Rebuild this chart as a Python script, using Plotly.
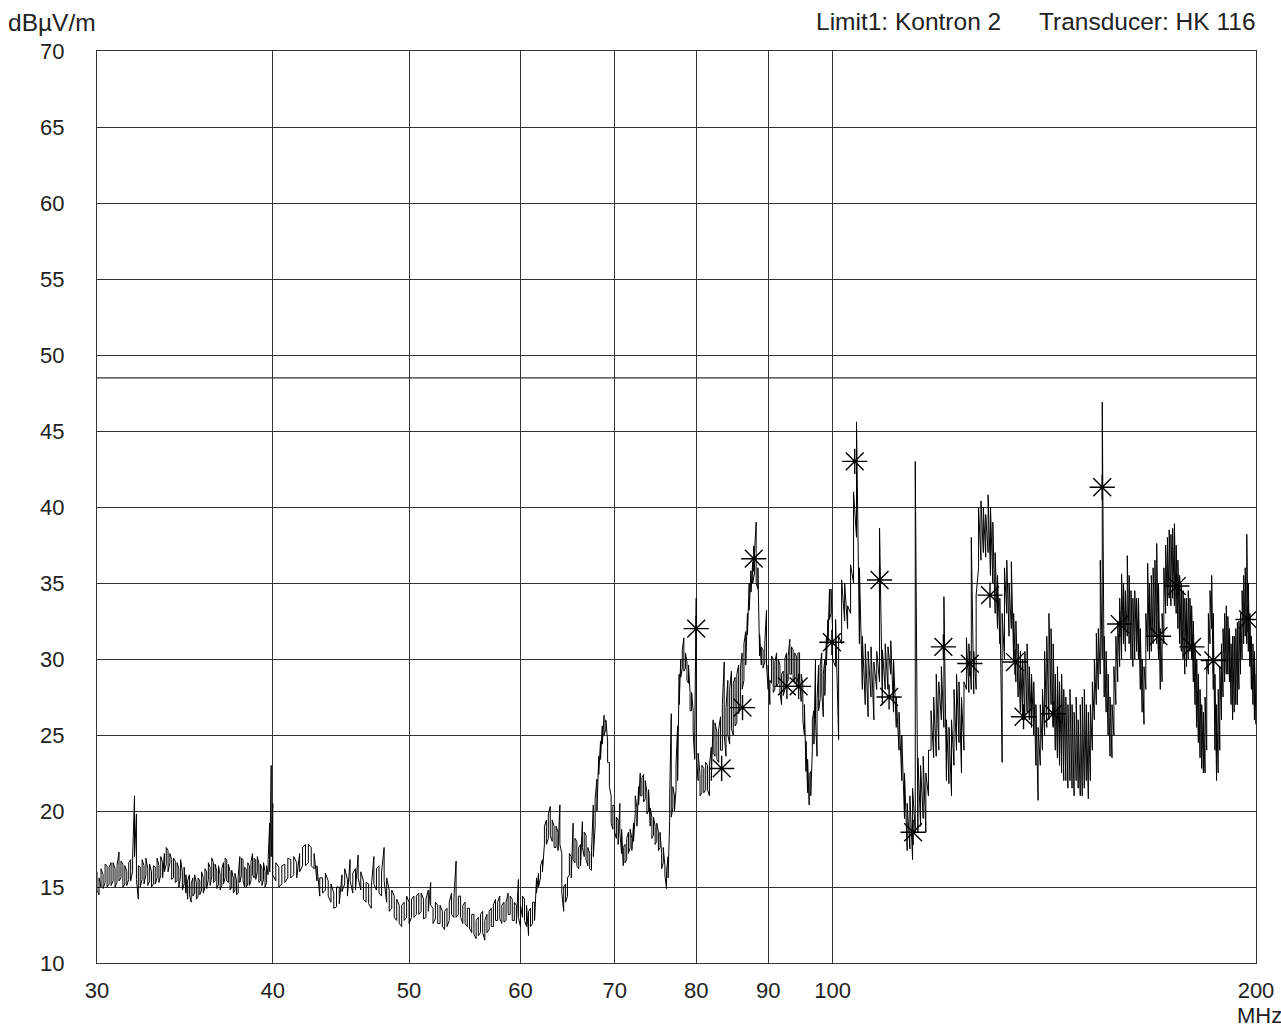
import math
import plotly.graph_objects as go

# ---------------- data ----------------
x_tick_vals = [30, 40, 50, 60, 70, 80, 90, 100, 200]
x_tick_text = ["30", "40", "50", "60", "70", "80", "90", "100", "200"]
y_tick_vals = [10, 15, 20, 25, 30, 35, 40, 45, 50, 55, 60, 65, 70]

limit1_level = 48.5  # Limit1: Kontron 2

# Each sweep point carries two detector readings (level, level2) drawn as a stroke.

# trace 30 - 40 MHz
seg_a_freq = [30.0, 30.1, 30.2, 30.3, 30.4, 30.5, 30.6, 30.7, 30.8, 30.9,
              31.0, 31.1, 31.2, 31.3, 31.4, 31.5, 31.6, 31.7, 31.8, 31.9,
              32.0, 32.1, 32.2, 32.3, 32.4, 32.5, 32.6, 32.7, 32.8, 32.9,
              33.0, 33.1, 33.2, 33.3, 33.4, 33.5, 33.6, 33.7, 33.8, 33.9,
              34.0, 34.1, 34.2, 34.3, 34.4, 34.5, 34.6, 34.7, 34.8, 34.9,
              35.0, 35.1, 35.2, 35.3, 35.4, 35.5, 35.6, 35.7, 35.8, 35.9,
              36.0, 36.1, 36.2, 36.3, 36.4, 36.5, 36.6, 36.7, 36.8, 36.9,
              37.0, 37.1, 37.2, 37.3, 37.4, 37.5, 37.6, 37.7, 37.8, 37.9,
              38.0, 38.1, 38.2, 38.3, 38.4, 38.5, 38.6, 38.7, 38.8, 38.9,
              39.0, 39.1, 39.2, 39.3, 39.4, 39.5, 39.6, 39.7, 39.8, 39.9, 40.0]
seg_a_level = [16.0, 14.5, 15.0, 15.8, 15.3, 16.4, 15.2, 16.6, 15.4, 16.2,
               15.3, 17.3, 15.6, 16.5, 15.2, 16.0, 15.5, 16.8, 16.0, 21.0,
               19.8, 14.2, 16.3, 15.5, 16.4, 15.8, 16.2, 15.4, 16.0, 15.2,
               16.3, 15.6, 16.4, 15.8, 16.6, 17.2, 16.5, 17.4, 16.6, 16.8,
               15.6, 16.7, 15.4, 16.2, 15.7, 16.0, 15.2, 14.6, 14.2, 15.8,
               14.0, 15.6, 14.6, 15.3, 14.4, 15.4, 14.8, 15.6, 15.0, 16.0,
               15.5, 16.3, 15.7, 16.6, 15.4, 16.0, 15.2, 15.8, 15.1, 16.6,
               15.6, 16.8, 15.3, 16.0, 15.0, 15.6, 14.8, 15.4, 14.6, 17.0,
               15.8, 16.8, 15.0, 16.2, 15.2, 16.4, 15.4, 17.2, 15.6, 16.8,
               16.0, 16.6, 15.4, 16.2, 15.5, 16.0, 15.3, 15.8, 19.2, 23.0, 20.5]
seg_a_level2 = [14.8, 15.6, 16.2, 14.9, 16.5, 15.0, 16.3, 15.1, 16.6, 15.0,
                16.4, 15.4, 16.7, 15.0, 16.4, 15.1, 16.6, 15.4, 16.9, 17.0,
                15.5, 16.4, 15.0, 16.8, 15.2, 16.9, 15.1, 16.5, 15.0, 16.4,
                15.2, 16.9, 15.3, 17.0, 15.6, 16.0, 17.6, 16.0, 17.2, 15.5,
                16.9, 15.3, 16.6, 15.0, 16.8, 14.8, 16.3, 15.8, 15.4, 14.5,
                15.2, 14.4, 15.8, 14.2, 15.6, 14.5, 16.0, 14.6, 16.2, 14.9,
                16.6, 15.1, 16.9, 15.3, 16.5, 14.9, 16.4, 14.8, 16.2, 15.2,
                16.9, 15.4, 16.5, 14.8, 16.1, 14.6, 15.9, 14.5, 15.7, 15.3,
                16.9, 15.4, 16.3, 15.0, 16.6, 15.1, 16.7, 15.8, 16.9, 15.5,
                17.0, 15.3, 16.5, 15.1, 16.6, 15.0, 16.4, 16.8, 16.0, 17.0, 15.8]

# trace 40 - 60 MHz
seg_b_freq = [40.2, 40.4, 40.6, 40.8, 41.0, 41.2, 41.4, 41.6, 41.8, 42.0,
              42.2, 42.4, 42.6, 42.8, 43.0, 43.2, 43.4, 43.6, 43.8, 44.0,
              44.2, 44.4, 44.6, 44.8, 45.0, 45.2, 45.4, 45.6, 45.8, 46.0,
              46.2, 46.4, 46.6, 46.8, 47.0, 47.2, 47.4, 47.6, 47.8, 48.0,
              48.2, 48.4, 48.6, 48.8, 49.0, 49.2, 49.4, 49.6, 49.8, 50.0,
              50.2, 50.4, 50.6, 50.8, 51.0, 51.2, 51.4, 51.6, 51.8, 52.0,
              52.2, 52.4, 52.6, 52.8, 53.0, 53.2, 53.4, 53.6, 53.8, 54.0,
              54.2, 54.4, 54.6, 54.8, 55.0, 55.2, 55.4, 55.6, 55.8, 56.0,
              56.2, 56.4, 56.6, 56.8, 57.0, 57.2, 57.4, 57.6, 57.8, 58.0,
              58.2, 58.4, 58.6, 58.8, 59.0, 59.2, 59.4, 59.6, 59.8, 60.0]
seg_b_level = [15.4, 16.3, 15.2, 16.5, 15.6, 16.8, 15.8, 16.6, 17.2, 16.4,
               17.8, 16.6, 17.6, 16.2, 15.4, 14.4, 15.6, 14.8, 15.4, 14.0,
               14.6, 13.7, 15.0, 15.8, 15.2, 15.5, 16.8, 14.6, 16.2, 17.1,
               14.8, 15.4, 14.0, 15.2, 13.6, 17.0, 14.8, 16.4, 14.4, 17.6,
               14.0, 14.8, 13.6, 14.4, 12.8, 13.8, 12.4, 14.0, 13.0, 14.0,
               13.0, 14.4, 13.2, 14.6, 13.4, 14.2, 13.0, 14.8, 15.3, 13.6,
               12.9, 13.8, 12.6, 13.4, 12.2, 13.6, 12.8, 14.6, 13.0, 16.7,
               13.2, 14.4, 12.6, 14.0, 12.4, 13.6, 12.0, 13.2, 11.6, 13.0,
               12.0, 13.4, 11.5, 13.2, 12.2, 13.6, 12.4, 14.2, 12.8, 14.4,
               12.6, 14.0, 12.8, 14.6, 13.2, 14.2, 12.8, 13.8, 15.5, 12.4]
seg_b_level2 = [16.6, 15.0, 16.4, 15.3, 16.9, 15.6, 17.0, 15.6, 16.0, 17.6,
                16.4, 17.8, 16.4, 17.2, 16.4, 15.6, 14.6, 15.9, 14.4, 15.2,
                13.6, 15.0, 13.9, 14.7, 16.2, 14.4, 15.4, 15.9, 14.8, 15.6,
                16.0, 14.2, 15.3, 13.9, 15.0, 15.2, 16.2, 14.6, 16.0, 15.4,
                15.6, 13.4, 14.8, 13.0, 14.2, 12.6, 13.8, 12.8, 14.4, 12.6,
                14.2, 13.0, 14.4, 13.2, 14.6, 12.9, 14.2, 13.4, 13.8, 12.6,
                14.0, 12.6, 13.8, 12.4, 13.4, 12.4, 14.0, 13.2, 14.2, 13.0,
                14.4, 13.0, 13.8, 12.6, 13.6, 12.3, 13.2, 11.9, 12.8, 11.8,
                13.2, 12.0, 12.8, 12.0, 13.4, 12.4, 13.8, 12.8, 14.0, 12.9,
                13.8, 12.7, 14.0, 13.2, 14.4, 12.8, 14.0, 12.6, 13.0, 13.8]

# trace 60 - 80 MHz
seg_c_freq = [60.2, 60.4, 60.6, 60.8, 61.0, 61.2, 61.4, 61.6, 61.8, 62.0,
              62.2, 62.4, 62.6, 62.8, 63.0, 63.2, 63.4, 63.6, 63.8, 64.0,
              64.2, 64.4, 64.6, 64.8, 65.0, 65.2, 65.4, 65.6, 65.8, 66.0,
              66.2, 66.4, 66.6, 66.8, 67.0, 67.2, 67.4, 67.6, 67.8, 68.0,
              68.2, 68.4, 68.6, 68.8, 69.0, 69.2, 69.4, 69.6, 69.8, 70.0,
              70.2, 70.4, 70.6, 70.8, 71.0, 71.2, 71.4, 71.6, 71.8, 72.0,
              72.2, 72.4, 72.6, 72.8, 73.0, 73.2, 73.4, 73.6, 73.8, 74.0,
              74.2, 74.4, 74.6, 74.8, 75.0, 75.2, 75.4, 75.6, 75.8, 76.0,
              76.2, 76.4, 76.6, 76.8, 77.0, 77.2, 77.4, 77.6, 77.8, 78.0,
              78.2, 78.4, 78.6, 78.8, 79.0, 79.2, 79.4, 79.6, 79.8, 80.0]
seg_c_level = [13.0, 14.2, 12.4, 11.8, 13.6, 12.6, 14.0, 15.6, 15.9, 15.6,
               16.8, 17.8, 19.4, 18.2, 20.3, 18.0, 19.0, 17.6, 18.6, 20.4,
               17.2, 13.4, 15.2, 14.4, 15.8, 17.0, 19.2, 16.6, 18.0, 16.2,
               17.8, 19.3, 17.0, 18.4, 16.4, 17.2, 16.1, 20.4, 19.0, 22.1,
               23.6, 24.6, 25.6, 26.3, 25.4, 24.6, 23.2, 21.0, 18.8, 20.3,
               18.2, 19.4, 20.5, 17.2, 16.4, 17.8, 16.8, 18.6, 17.6, 18.2,
               19.2, 19.8, 20.2, 21.6, 22.5, 21.0, 22.4, 20.8, 21.2, 20.0,
               19.0, 19.6, 18.4, 19.0, 18.0, 18.6, 17.6, 17.2, 16.6, 16.4,
               14.9, 17.0, 19.4, 26.4, 20.2, 21.0, 21.4, 25.6, 29.0, 30.0,
               29.4, 31.4, 29.4, 29.8, 28.4, 27.8, 26.6, 26.6, 23.4, 34.0]
seg_c_level2 = [14.4, 12.8, 13.8, 13.4, 12.4, 14.0, 12.8, 14.6, 15.0, 16.4,
                16.0, 19.0, 17.8, 19.8, 18.4, 19.4, 17.6, 19.0, 17.4, 17.8,
                14.6, 15.0, 14.0, 15.6, 17.2, 15.6, 16.8, 18.2, 16.4, 17.6,
                16.4, 17.6, 18.6, 16.8, 17.6, 16.2, 17.4, 17.0, 20.8, 20.0,
                22.4, 23.4, 24.4, 25.0, 26.0, 23.2, 21.6, 19.2, 20.4, 18.6,
                19.6, 17.8, 18.6, 18.8, 17.6, 16.6, 18.2, 17.2, 18.8, 17.4,
                18.0, 21.0, 19.0, 20.4, 21.0, 22.2, 20.6, 22.0, 19.8, 21.4,
                20.2, 18.2, 19.6, 17.8, 19.2, 17.4, 18.6, 16.2, 17.6, 15.8,
                16.0, 15.6, 21.0, 19.6, 21.6, 20.0, 23.0, 22.0, 27.0, 28.8,
                30.6, 29.2, 30.4, 28.6, 29.6, 26.6, 27.8, 25.2, 25.0, 23.6]

# trace 80 - 100 MHz
seg_d_freq = [80.25, 80.5, 80.75, 81.0, 81.25, 81.5, 81.75, 82.0,
              82.25, 82.5, 82.75, 83.0, 83.25, 83.5, 83.75, 84.0,
              84.25, 84.5, 84.75, 85.0, 85.25, 85.5, 85.75, 86.0,
              86.25, 86.5, 86.75, 87.0, 87.25, 87.5, 87.75, 88.0,
              88.25, 88.5, 88.75, 89.0, 89.25, 89.5, 89.75, 90.0,
              90.25, 90.5, 90.75, 91.0, 91.25, 91.5, 91.75, 92.0,
              92.25, 92.5, 92.75, 93.0, 93.25, 93.5, 93.75, 94.0,
              94.25, 94.5, 94.75, 95.0, 95.25, 95.5, 95.75, 96.0,
              96.25, 96.5, 96.75, 97.0, 97.25, 97.5, 97.75, 98.0,
              98.25, 98.5, 98.75, 99.0, 99.25, 99.5, 99.75, 100.0]
seg_d_level = [22.0, 22.4, 21.2, 22.8, 21.4, 23.0, 21.0, 24.2,
               26.0, 23.6, 25.2, 23.2, 26.2, 24.0, 29.8, 23.6,
               28.6, 24.4, 29.2, 25.0, 28.8, 25.8, 29.6, 27.0,
               30.4, 28.6, 31.8, 33.0, 35.0, 35.8, 36.4, 35.6,
               39.0, 34.6, 30.2, 29.6, 30.6, 29.8, 33.2, 28.0,
               27.0, 28.4, 30.0, 28.0, 30.4, 28.4, 29.6, 27.0,
               29.2, 28.0, 30.4, 28.6, 31.3, 29.0, 30.6, 28.4,
               30.2, 28.8, 30.4, 27.2, 28.4, 25.0, 22.6, 21.2,
               20.4, 22.6, 24.0, 26.6, 30.0, 23.6, 29.6, 27.4,
               30.4, 26.2, 30.0, 31.4, 32.6, 34.6, 33.0, 32.0]
seg_d_level2 = [23.8, 21.0, 23.0, 21.2, 23.2, 21.4, 23.0, 22.0,
                23.8, 25.8, 23.4, 25.4, 24.0, 27.0, 25.0, 26.8,
                25.0, 28.0, 25.4, 28.4, 25.6, 29.0, 26.4, 29.4,
                28.0, 31.0, 29.6, 31.6, 33.2, 34.4, 35.0, 37.0,
                35.0, 36.0, 31.6, 30.8, 29.4, 31.0, 29.6, 29.6,
                28.6, 30.2, 27.8, 29.8, 28.2, 30.0, 27.8, 29.0,
                27.6, 30.0, 28.4, 30.2, 29.0, 30.8, 28.6, 30.4,
                28.2, 30.4, 28.6, 29.0, 26.0, 27.0, 24.6, 23.4,
                22.4, 21.0, 26.0, 24.4, 26.0, 27.4, 26.6, 29.6,
                27.8, 29.0, 27.6, 29.6, 31.0, 32.6, 34.6, 30.0]

# 100 - 200 MHz: min / max level per 0.5 MHz display bin
seg_e_freq = [100.5, 101.0, 101.5, 102.0, 102.5, 103.0, 103.5, 104.0, 104.5, 105.0,
              105.5, 106.0, 106.5, 107.0, 107.5, 108.0, 108.5, 109.0, 109.5, 110.0,
              110.5, 111.0, 111.5, 112.0, 112.5, 113.0, 113.5, 114.0, 114.5, 115.0,
              115.5, 116.0, 116.5, 117.0, 117.5, 118.0, 118.5, 119.0, 119.5, 120.0,
              120.5, 121.0, 121.5, 122.0, 122.5, 123.0, 123.5, 124.0, 124.5, 125.0,
              125.5, 126.0, 126.5, 127.0, 127.5, 128.0, 128.5, 129.0, 129.5, 130.0,
              130.5, 131.0, 131.5, 132.0, 132.5, 133.0, 133.5, 134.0, 134.5, 135.0,
              135.5, 136.0, 136.5, 137.0, 137.5, 138.0, 138.5, 139.0, 139.5, 140.0,
              140.5, 141.0, 141.5, 142.0, 142.5, 143.0, 143.5, 144.0, 144.5, 145.0,
              145.5, 146.0, 146.5, 147.0, 147.5, 148.0, 148.5, 149.0, 149.5, 150.0,
              150.5, 151.0, 151.5, 152.0, 152.5, 153.0, 153.5, 154.0, 154.5, 155.0,
              155.5, 156.0, 156.5, 157.0, 157.5, 158.0, 158.5, 159.0, 159.5, 160.0,
              160.5, 161.0, 161.5, 162.0, 162.5, 163.0, 163.5, 164.0, 164.5, 165.0,
              165.5, 166.0, 166.5, 167.0, 167.5, 168.0, 168.5, 169.0, 169.5, 170.0,
              170.5, 171.0, 171.5, 172.0, 172.5, 173.0, 173.5, 174.0, 174.5, 175.0,
              175.5, 176.0, 176.5, 177.0, 177.5, 178.0, 178.5, 179.0, 179.5, 180.0,
              180.5, 181.0, 181.5, 182.0, 182.5, 183.0, 183.5, 184.0, 184.5, 185.0,
              185.5, 186.0, 186.5, 187.0, 187.5, 188.0, 188.5, 189.0, 189.5, 190.0,
              190.5, 191.0, 191.5, 192.0, 192.5, 193.0, 193.5, 194.0, 194.5, 195.0,
              195.5, 196.0, 196.5, 197.0, 197.5, 198.0, 198.5, 199.0, 199.5, 200.0]
seg_e_min = [29.5, 24.7, 31.0, 32.5, 32.0, 33.0, 35.0, 38.0, 31.0, 28.0,
             27.0, 26.2, 27.5, 26.0, 28.0, 28.5, 27.0, 28.0, 28.0, 29.0,
             26.5, 25.5, 24.0, 22.0, 19.5, 17.4, 17.5, 16.8, 18.6, 18.6,
             19.0, 19.5, 18.6, 21.0, 24.0, 23.5, 23.6, 24.0, 26.0, 25.5,
             22.0, 21.8, 21.0, 23.0, 24.0, 24.5, 22.5, 24.0, 28.0, 27.8,
             28.0, 27.7, 28.0, 36.0, 36.5, 37.0, 36.7, 37.0, 35.5, 35.0,
             33.0, 32.0, 31.0, 23.2, 30.0, 33.0, 31.5, 32.0, 30.0, 28.5,
             27.5, 26.5, 26.0, 26.0, 26.5, 26.0, 25.5, 25.0, 23.0, 20.7,
             23.0, 24.0, 25.0, 25.5, 26.0, 27.0, 25.5, 24.0, 23.5, 23.0,
             22.5, 22.0, 22.0, 21.5, 22.0, 21.5, 21.0, 22.0, 21.5, 21.0,
             21.0, 21.5, 22.0, 20.8, 22.0, 24.0, 26.0, 27.0, 28.0, 29.0,
             30.0, 27.5, 26.5, 25.0, 23.6, 23.5, 25.0, 27.0, 28.5, 29.5,
             30.0, 31.0, 30.5, 31.5, 31.0, 30.0, 29.5, 30.0, 30.5, 30.0,
             28.0, 26.5, 25.7, 28.0, 30.5, 30.0, 30.5, 31.0, 31.5, 31.0,
             30.0, 28.0, 28.5, 31.0, 33.0, 33.5, 34.0, 33.5, 34.0, 33.5,
             33.0, 32.0, 31.0, 30.5, 30.0, 29.0, 29.5, 30.0, 30.5, 30.0,
             28.5, 27.0, 25.5, 24.5, 23.5, 22.8, 22.5, 22.5, 24.0, 29.0,
             31.0, 32.0, 28.0, 24.0, 22.0, 22.5, 24.0, 26.0, 27.5, 28.5,
             29.0, 29.0, 28.5, 27.0, 26.0, 26.5, 27.0, 27.0, 28.0, 29.0,
             30.0, 31.0, 31.5, 31.0, 30.5, 29.5, 28.0, 27.0, 26.0, 25.7]
seg_e_max = [32.6, 31.5, 35.2, 35.0, 33.5, 36.2, 41.0, 45.6, 36.0, 31.5,
             31.0, 30.5, 30.8, 29.8, 30.5, 38.6, 30.6, 31.0, 30.8, 31.2,
             30.0, 27.5, 26.5, 25.0, 22.5, 20.5, 21.0, 21.5, 43.0, 23.5,
             23.0, 23.6, 22.5, 24.0, 26.6, 27.5, 29.0, 28.5, 29.5, 34.1,
             26.0, 25.5, 26.0, 28.0, 29.0, 28.5, 27.5, 28.5, 31.4, 31.0,
             38.0, 30.5, 34.2, 40.0, 40.4, 40.0, 39.5, 40.8, 40.0, 39.0,
             37.0, 35.5, 34.0, 33.0, 36.0, 36.5, 35.0, 36.4, 33.0, 32.5,
             31.0, 30.5, 30.0, 30.5, 31.0, 29.5, 29.0, 28.5, 27.0, 25.5,
             27.0, 28.0, 30.5, 31.5, 33.0, 32.0, 31.0, 29.0, 29.5, 28.5,
             29.0, 28.0, 27.5, 27.0, 28.0, 27.0, 26.5, 27.5, 26.0, 27.0,
             27.5, 28.0, 27.0, 26.5, 27.0, 28.5, 30.0, 31.7, 32.0, 36.5,
             46.9, 31.5, 30.5, 29.0, 27.5, 27.0, 29.5, 31.5, 32.5, 34.0,
             35.6, 35.0, 34.5, 36.8, 35.5, 34.5, 34.0, 34.5, 34.0, 34.0,
             32.0, 30.0, 29.5, 33.0, 36.3, 35.0, 35.5, 36.0, 36.5, 37.6,
             35.0, 32.0, 33.0, 36.0, 37.5, 38.0, 38.5, 38.2, 38.6, 38.9,
             37.5, 36.5, 35.5, 35.0, 34.5, 34.0, 34.0, 34.5, 34.0, 33.5,
             32.5, 31.0, 30.0, 29.0, 28.0, 27.0, 26.5, 27.5, 30.0, 33.0,
             34.5, 35.5, 33.0, 29.0, 27.0, 28.0, 29.5, 31.0, 32.0, 33.0,
             33.5, 32.8, 32.0, 31.0, 31.5, 31.5, 32.0, 32.4, 32.5, 33.0,
             34.5, 35.5, 36.0, 38.2, 35.0, 33.0, 31.5, 31.0, 30.5, 29.0]

# peak markers (asterisks)
marker_freq = [80.0, 83.4, 86.3, 87.9, 92.8, 94.6, 99.9, 103.7, 108.0, 109.7,
               114.1, 119.9, 125.2, 129.4, 134.8, 136.7, 143.5, 155.5, 160.0,
               170.5, 175.7, 180.1, 186.5, 197.4]
marker_level = [32.0, 22.8, 26.8, 36.6, 28.2, 28.2, 31.1, 43.0, 35.2, 27.5,
                18.6, 30.8, 29.7, 34.2, 29.8, 26.2, 26.4, 41.3, 32.3,
                31.5, 34.8, 30.8, 29.9, 32.6]

# ---------------- figure ----------------
def strokes(freqs, first, second):
    """Join the two readings of every sweep point as a vertical stroke, in sweep order."""
    xs, ys = [], []
    for f, a, b in zip(freqs, first, second):
        xs += [f, f]
        ys += [a, b]
    return xs, ys

freq, level = [], []
for fr, a, b in [(seg_a_freq, seg_a_level, seg_a_level2),
                 (seg_b_freq, seg_b_level, seg_b_level2),
                 (seg_c_freq, seg_c_level, seg_c_level2),
                 (seg_d_freq, seg_d_level, seg_d_level2),
                 (seg_e_freq, seg_e_min, seg_e_max)]:
    xs, ys = strokes(fr, a, b)
    freq += xs
    level += ys

GRID = "#333333"
FONT = "Liberation Sans, Arial, sans-serif"

fig = go.Figure()
fig.add_trace(go.Scatter(x=[x_tick_vals[0], x_tick_vals[-1]], y=[limit1_level, limit1_level],
                         mode="lines", line=dict(color=GRID, width=1.3), hoverinfo="skip"))
fig.add_trace(go.Scatter(x=freq, y=level, mode="lines",
                         line=dict(color="black", width=1.0)))
fig.add_trace(go.Scatter(x=marker_freq, y=marker_level, mode="markers",
                         marker=dict(symbol="asterisk-open", size=21, color="black",
                                     line=dict(color="black", width=1.4))))

fig.update_layout(
    width=1281, height=1032,
    margin=dict(l=97, r=25, t=51, b=69, autoexpand=False),
    plot_bgcolor="white", paper_bgcolor="white",
    showlegend=False,
    font=dict(family=FONT, size=22, color="#222222"),
)
fig.update_xaxes(
    type="log",
    range=[math.log10(x_tick_vals[0]), math.log10(x_tick_vals[-1])],
    tickmode="array", tickvals=x_tick_vals, ticktext=x_tick_text,
    showgrid=True, gridcolor=GRID, gridwidth=1.3,
    showline=True, linecolor=GRID, linewidth=1.3, mirror=True,
    ticks="", zeroline=False, ticklabelstandoff=7, automargin=False,
)
fig.update_yaxes(
    range=[10, 70], tickmode="array", tickvals=y_tick_vals,
    showgrid=True, gridcolor=GRID, gridwidth=1.3,
    showline=True, linecolor=GRID, linewidth=1.3, mirror=True,
    ticks="", zeroline=False, ticklabelstandoff=27, automargin=False,
)
HEAD = dict(size=24.5)
fig.add_annotation(text="dBµV/m", xref="paper", yref="paper", x=0, y=1,
                   xanchor="left", yanchor="middle", xshift=-91, yshift=29,
                   showarrow=False, font=HEAD)
fig.add_annotation(text="Transducer: HK 116", xref="paper", yref="paper", x=1, y=1,
                   xanchor="right", yanchor="middle", xshift=2, yshift=30,
                   showarrow=False, font=HEAD)
fig.add_annotation(text="Limit1: Kontron 2", xref="paper", yref="paper", x=1, y=1,
                   xanchor="right", yanchor="middle", xshift=-253, yshift=30,
                   showarrow=False, font=HEAD)
fig.add_annotation(text="MHz", xref="paper", yref="paper", x=1, y=0,
                   xanchor="center", yanchor="middle", xshift=3, yshift=-52,
                   showarrow=False)

fig.write_html("out.html")
